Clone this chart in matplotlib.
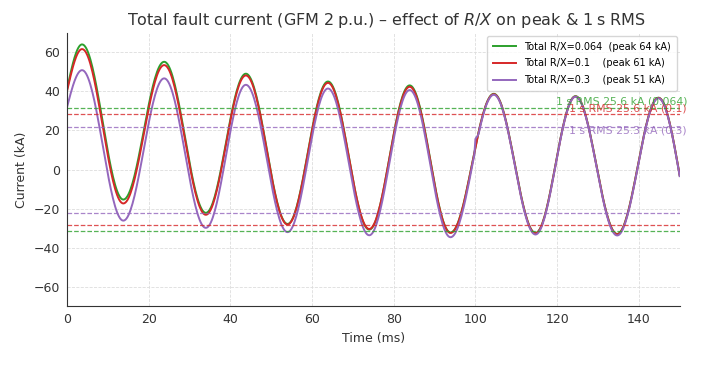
import numpy as np
import matplotlib
matplotlib.use('Agg')
import matplotlib.pyplot as plt

# extrema (time in ms, current in kA); first/last are the window ends
t_ext = [0, 3.7, 13.8, 23.8, 34.0, 43.8, 54.0, 63.9, 74.0, 83.9, 93.9,
         104.5, 114.7, 124.5, 134.7, 144.8, 150]
i_rx0064 = [41.0, 64.1, -15.4, 55.2, -22.2, 49.1, -27.9, 45.1, -30.8, 43.1, -32.3,
            38.8, -32.5, 37.6, -33.0, 36.8, -3.0]
i_rx01 = [40.0, 61.7, -17.4, 53.5, -23.2, 48.2, -28.2, 44.4, -30.5, 42.4, -32.5,
          38.6, -32.7, 37.4, -33.2, 36.7, -3.0]
i_rx03 = [31.8, 50.9, -26.2, 46.7, -29.9, 43.4, -32.1, 41.5, -33.7, 40.7, -34.7,
          38.3, -33.3, 37.3, -33.8, 36.5, -3.4]

# short spike on the R/X=0.3 trace at the 100 ms switching instant
spike_t = [99.85, 100.0, 100.7]
spike_i = [0.0, 5.5, 0.0]

rx_labels = ['0.064', '0.1', '0.3']
peaks = [64, 61, 51]
rms = [25.6, 25.6, 25.3]
band_hi = [31.4, 28.4, 21.9]
band_lo = [-31.6, -28.6, -22.2]
text_y = [34.7, 31.1, 20.0]
colors = ['#2ca02c', '#d62728', '#9467bd']


def waveform(tk, ik, n=40):
    """Smooth half-cosine swing between successive extrema."""
    ts, ys = [], []
    for k in range(len(tk) - 1):
        t0, t1, y0, y1 = tk[k], tk[k + 1], ik[k], ik[k + 1]
        s = np.linspace(0, 1, n, endpoint=False)
        if k == 0:
            w = np.sin(np.pi / 2 * s)
        elif k == len(tk) - 2:
            s = np.linspace(0, 1, n)
            w = 1 - np.cos(np.pi / 2 * s)
        else:
            w = (1 - np.cos(np.pi * s)) / 2
        ts.append(t0 + (t1 - t0) * s)
        ys.append(y0 + (y1 - y0) * w)
    return np.concatenate(ts), np.concatenate(ys)


fig = plt.figure(figsize=(7.2, 3.87), dpi=100)
ax = fig.add_axes([0.093, 0.209, 0.851, 0.706])

series = [i_rx0064, i_rx01, i_rx03]
for k, (vals, c) in enumerate(zip(series, colors)):
    t, y = waveform(t_ext, vals)
    if k == 2:
        y = y + np.interp(t, spike_t, spike_i)
    ax.plot(t, y, color=c, lw=1.4,
            label=f'Total R/X={rx_labels[k]:<5}  (peak {peaks[k]} kA)')

for k, c in enumerate(colors):
    ax.axhline(band_hi[k], color=c, ls='--', lw=0.9, alpha=0.8)
    ax.axhline(band_lo[k], color=c, ls='--', lw=0.9, alpha=0.8)
    ax.text(151.8, text_y[k], f'1 s RMS {rms[k]:.1f} kA ({rx_labels[k]})',
            color=c, alpha=0.8, fontsize=7.8, ha='right', va='center')

ax.set_xlim(0, 150)
ax.set_ylim(-70, 70)
ax.set_xticks(np.arange(0, 141, 20))
ax.set_yticks(np.arange(-60, 61, 20))
ax.grid(True, color='#dddddd', ls='--', lw=0.6)
for side in ['top', 'right']:
    ax.spines[side].set_visible(False)
for side in ['left', 'bottom']:
    ax.spines[side].set_color('#333333')
ax.tick_params(length=0, labelsize=9, colors='#333333', pad=5)
ax.set_xlabel('Time (ms)', fontsize=9, color='#333333')
ax.set_ylabel('Current (kA)', fontsize=9, color='#333333')
ax.set_title('Total fault current (GFM 2\u2009p.u.) \u2013 effect of $R/X$ on peak & 1\u2009s RMS',
             fontsize=11.5, color='#333333', pad=6, x=0.522)
leg = ax.legend(loc='upper right', fontsize=7, frameon=True, handlelength=2.4,
                labelspacing=0.7, borderpad=0.6, borderaxespad=0.3)
leg.get_frame().set_edgecolor('#cccccc')

fig.savefig('out.png', dpi=100)
